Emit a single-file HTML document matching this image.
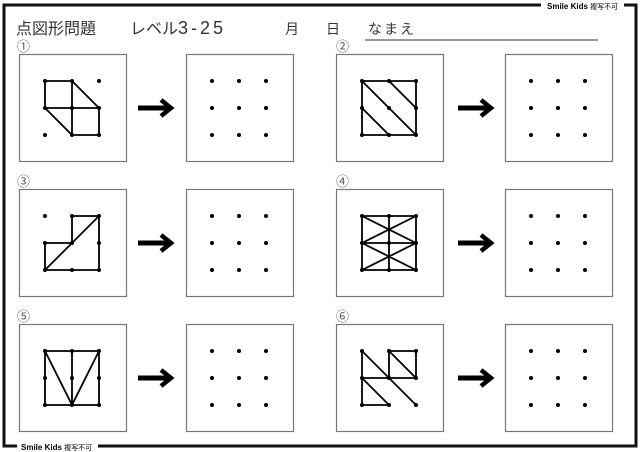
<!DOCTYPE html>
<html><head><meta charset="utf-8"><style>
html,body{margin:0;padding:0;background:#fff;}
svg{display:block}
text{font-family:"Liberation Sans","Noto Sans CJK JP",sans-serif;}
</style></head><body>
<svg width="640" height="452" viewBox="0 0 640 452" xmlns="http://www.w3.org/2000/svg">
<defs>
<g id="dots" fill="#000">
<circle cx="26" cy="27" r="2"/><circle cx="53" cy="27" r="2"/><circle cx="80" cy="27" r="2"/>
<circle cx="26" cy="54" r="2"/><circle cx="53" cy="54" r="2"/><circle cx="80" cy="54" r="2"/>
<circle cx="26" cy="81" r="2"/><circle cx="53" cy="81" r="2"/><circle cx="80" cy="81" r="2"/>
</g>
<g id="box"><rect x="0.5" y="0.5" width="107" height="107" fill="none" stroke="#777" stroke-width="1.2"/></g>
<g id="arrow"><line x1="0" y1="0" x2="30" y2="0" stroke="#000" stroke-width="5"/><polyline points="23,-8 33,0 23,8" fill="none" stroke="#000" stroke-width="4.5"/></g>
</defs>
<g stroke="#111" stroke-width="3" fill="none">
<polyline points="541,5 4,5 4,446 17,446"/>
<polyline points="624,5 636,5 636,446 98,446"/>
</g>
<text x="547" y="9" font-size="8" font-weight="bold">Smile Kids <tspan font-weight="normal" font-size="7">複写不可</tspan></text>
<text x="21" y="450" font-size="8" font-weight="bold">Smile Kids <tspan font-weight="normal" font-size="7">複写不可</tspan></text>
<text x="16" y="34" font-size="16" fill="#333">点図形問題</text>
<text x="130" y="34" font-size="16" fill="#333">レベル<tspan letter-spacing="3" font-size="18">3-25</tspan></text>
<text x="285" y="34" font-size="14" fill="#333">月</text>
<text x="326" y="34" font-size="14" fill="#333">日</text>
<text x="368" y="34" font-size="14" fill="#333" letter-spacing="2">なまえ</text>
<line x1="365" y1="40" x2="598" y2="40" stroke="#333" stroke-width="1"/>
<g font-size="13" fill="#555">
<text x="17" y="51">①</text><text x="336" y="51">②</text>
<text x="17" y="186">③</text><text x="336" y="186">④</text>
<text x="17" y="321">⑤</text><text x="336" y="321">⑥</text>
</g>
<g>
<use href="#box" x="19" y="54"/><use href="#box" x="186" y="54"/><use href="#box" x="336" y="54"/><use href="#box" x="505" y="54"/>
<use href="#box" x="19" y="189"/><use href="#box" x="186" y="189"/><use href="#box" x="336" y="189"/><use href="#box" x="505" y="189"/>
<use href="#box" x="19" y="324"/><use href="#box" x="186" y="324"/><use href="#box" x="336" y="324"/><use href="#box" x="505" y="324"/>
</g>
<g>
<use href="#dots" x="19" y="54"/><use href="#dots" x="186" y="54"/><use href="#dots" x="336" y="54"/><use href="#dots" x="505" y="54"/>
<use href="#dots" x="19" y="189"/><use href="#dots" x="186" y="189"/><use href="#dots" x="336" y="189"/><use href="#dots" x="505" y="189"/>
<use href="#dots" x="19" y="324"/><use href="#dots" x="186" y="324"/><use href="#dots" x="336" y="324"/><use href="#dots" x="505" y="324"/>
</g>
<g>
<use href="#arrow" x="138" y="108"/><use href="#arrow" x="458" y="108"/>
<use href="#arrow" x="138" y="243"/><use href="#arrow" x="458" y="243"/>
<use href="#arrow" x="138" y="378"/><use href="#arrow" x="458" y="378"/>
</g>
<g stroke="#000" stroke-width="1.8" fill="none" stroke-linecap="round">
<g transform="translate(19,54)">
<path d="M26,27H53M26,27V54M53,27V81M53,27L80,54M26,54H80M26,54L53,81M80,54V81M53,81H80"/>
</g>
<g transform="translate(336,54)">
<path d="M26,27H80V81H26ZM26,27L80,81M53,27L80,54M26,54L53,81"/>
</g>
<g transform="translate(19,189)">
<path d="M53,27H80M53,27V54M80,27V81M26,54H53M26,54V81M26,81H80M26,81L80,27"/>
</g>
<g transform="translate(336,189)">
<path d="M26,27H80V81H26ZM53,27V81M26,54H80M26,27L80,54M80,27L26,54M26,54L80,81M80,54L26,81"/>
</g>
<g transform="translate(19,324)">
<path d="M26,27H80V81H26ZM53,27V81M26,27L53,81M80,27L53,81"/>
</g>
<g transform="translate(336,324)">
<path d="M26,27V81M26,27L53,54M53,27H80M53,27V54M53,27L80,54M80,27V54M26,54H80M26,54L53,81M26,81H53M53,54L80,81"/>
</g>
</g>
</svg>
</body></html>
